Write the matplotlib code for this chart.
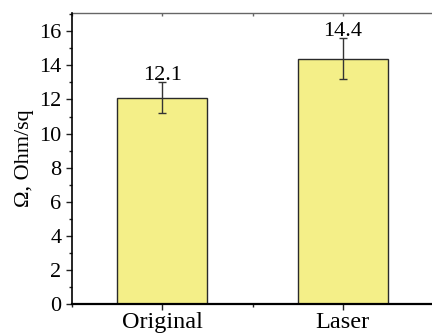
import matplotlib.pyplot as plt
from matplotlib.ticker import MultipleLocator

plt.rcParams['font.family'] = ['Liberation Serif', 'DejaVu Serif']

# data
samples = ['Original', 'Laser']
sheet_res = [12.1, 14.4]
res_err = [0.9, 1.2]
labels = ['12.1', '14.4']

fig = plt.figure(figsize=(4.32, 3.36), dpi=100)
ax = fig.add_axes([72 / 432, 32.3 / 336, 361 / 432, 291 / 336])

xpos = [1, 2]
ax.bar(xpos, sheet_res, width=0.5, color='#F4EF88', edgecolor='#2a2a2a', linewidth=1.0,
       yerr=res_err, capsize=3, error_kw=dict(ecolor='#333333', elinewidth=1.0, capthick=1.0))

for x, v, e, t in zip(xpos, sheet_res, res_err, labels):
    ax.annotate(t, (x, v + e), xytext=(0, 1.5), textcoords='offset points',
                ha='center', va='baseline', fontsize=16)

ax.set_xlim(0.5, 2.5)
ax.set_ylim(0, 17.1)
ax.set_xticks(xpos)
ax.set_xticklabels(samples)
ax.xaxis.set_minor_locator(MultipleLocator(0.5))
ax.yaxis.set_major_locator(MultipleLocator(2))
ax.yaxis.set_minor_locator(MultipleLocator(1))
ax.set_ylabel('Ω, Ohm/sq', fontsize=16, labelpad=4)

ax.tick_params(axis='both', which='major', labelsize=16, direction='out', length=4.5, width=1, color='#222222')
ax.tick_params(axis='y', which='major', pad=3)
ax.tick_params(axis='x', which='major', pad=1.5, labelsize=17.5)
ax.tick_params(axis='both', which='minor', direction='out', length=2.5, width=1, color='#222222')

# small inward ticks on the top frame line
top = ax.secondary_xaxis('top')
top.set_xticks(xpos)
top.xaxis.set_minor_locator(MultipleLocator(0.5))
top.tick_params(which='both', direction='in', length=2, width=1, color='#666666', labeltop=False)
top.spines['top'].set_color('#666666')
top.spines['top'].set_linewidth(1.0)

ax.spines['right'].set_visible(False)
ax.spines['top'].set_visible(False)
ax.spines['left'].set_linewidth(1.2)
ax.spines['bottom'].set_linewidth(1.6)

fig.savefig('out.png', dpi=100)
